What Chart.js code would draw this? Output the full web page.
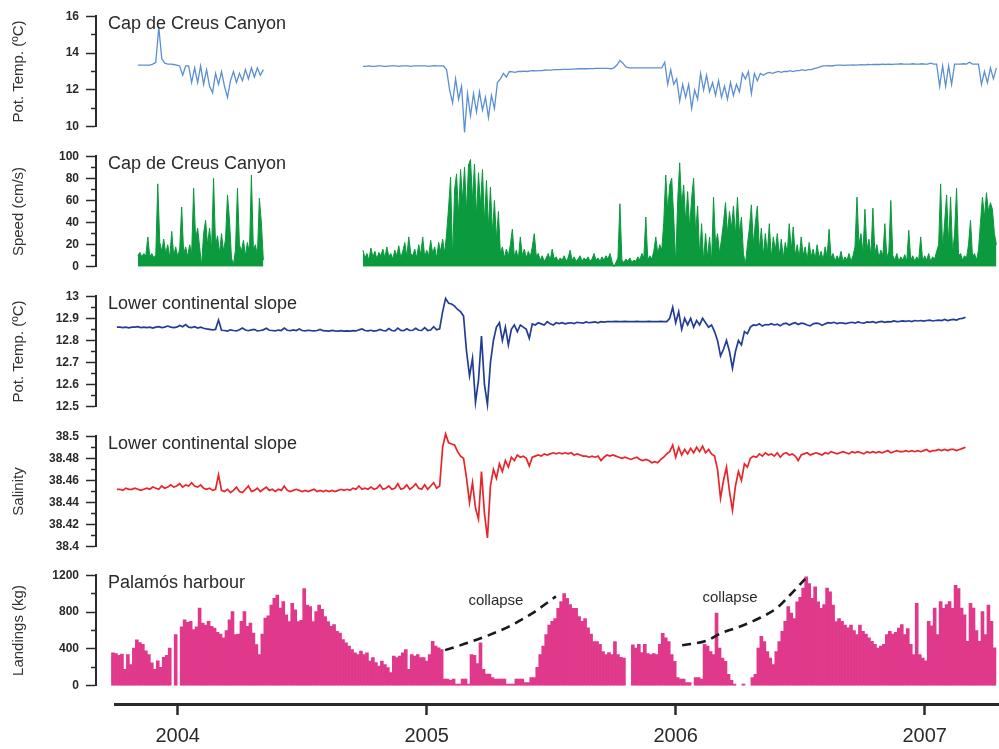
<!DOCTYPE html>
<html lang="en">
<head>
<meta charset="UTF-8">
<title>Cap de Creus / Palamós time series</title>
<script src="https://cdn.jsdelivr.net/npm/chart.js"></script>
<style>
  html, body { margin: 0; padding: 0; background: #fff; overflow: hidden; }
  #wrap { position: relative; width: 999px; height: 749px; }
  #wrap canvas { position: absolute; left: 0; }
</style>
</head>
<body>
<div id="wrap">
  <canvas id="p1" width="999" height="139" style="top:2px"></canvas>
  <canvas id="p2" width="999" height="139" style="top:142px"></canvas>
  <canvas id="p3" width="999" height="139" style="top:282px"></canvas>
  <canvas id="p4" width="999" height="139" style="top:422px"></canvas>
  <canvas id="p5" width="999" height="139" style="top:561px"></canvas>
  <canvas id="xaxis" width="999" height="59" style="top:690px"></canvas>
</div>

<script>
// time is in decimal years; every record is sampled on a regular grid
const yearTicks = [2004, 2005, 2006, 2007];
const stepSlow = 0.012;   // ~4.4 days
const stepFast = 0.008;   // ~2.9 days

// Cap de Creus Canyon - potential temperature (ºC), two deployments
const creusTempStart = [2003.840, 2004.744];
const creusTempA = [
  13.35,13.35,13.35,13.35,13.35,13.4,13.5,15.4,13.7,13.45,
  13.4,13.4,13.38,13.35,13.3,12.8,13.3,13.3,12.4,13.2,
  12.4,13.3,12.3,13.1,12.2,11.85,12.9,12.3,13.0,12.2,
  11.6,12.5,13.0,12.4,12.9,12.5,13.1,12.6,13.2,12.7,
  13.2,12.8,13.1
];
const creusTempB = [
  13.28,13.28,13.3,13.28,13.28,13.3,13.3,13.28,13.28,13.3,
  13.3,13.3,13.28,13.3,13.3,13.3,13.28,13.3,13.3,13.3,
  13.3,13.3,13.28,13.3,13.32,13.3,13.3,13.3,13.1,12.0,
  11.3,12.6,11.5,12.2,9.7,11.8,10.6,11.8,10.8,11.9,
  10.9,11.6,10.5,11.7,11.0,12.4,12.6,12.9,12.7,13.0,
  12.98,12.95,13.0,13.0,13.02,13.0,13.03,13.05,13.03,13.05,
  13.05,13.08,13.07,13.08,13.1,13.1,13.1,13.12,13.12,13.12,
  13.13,13.13,13.15,13.15,13.15,13.15,13.16,13.16,13.17,13.17,
  13.17,13.17,13.17,13.15,13.2,13.35,13.6,13.45,13.25,13.2,
  13.2,13.2,13.2,13.2,13.2,13.2,13.2,13.2,13.2,13.2,
  13.2,13.5,12.3,13.1,12.3,12.6,11.4,12.3,11.6,12.3,
  11.0,12.0,11.5,12.9,12.0,12.8,11.9,12.4,11.7,12.5,
  11.6,12.2,11.5,12.4,11.7,12.3,11.9,12.9,12.6,13.0,
  11.8,12.9,12.5,12.9,12.8,12.9,12.95,12.9,12.95,13.0,
  12.95,13.0,13.0,13.05,13.0,13.05,13.05,13.1,13.05,13.1,
  13.1,13.15,13.2,13.25,13.3,13.3,13.32,13.3,13.33,13.35,
  13.35,13.33,13.35,13.35,13.36,13.35,13.36,13.37,13.36,13.38,
  13.37,13.38,13.38,13.38,13.4,13.38,13.4,13.38,13.4,13.4,
  13.42,13.4,13.4,13.4,13.42,13.4,13.4,13.42,13.4,13.4,
  13.45,13.4,13.4,12.2,13.3,12.2,13.3,12.3,13.4,13.4,
  13.4,13.42,13.4,13.5,13.4,13.4,13.4,12.3,13.0,12.4,
  13.2,12.6,13.2
];

// Cap de Creus Canyon - current speed (cm/s)
const speedStart = [2003.840, 2004.744];
const speedA = [
  10,13,9,12,10,27,9,12,8,11,
  75,22,14,25,12,20,8,32,10,18,
  9,16,54,12,18,9,20,12,71,25,
  35,18,1,30,42,20,35,15,80,20,
  28,12,30,14,25,65,42,8,2,15,
  71,20,14,24,10,22,12,83,15,20,
  10,62,40,6
];
const speedB = [
  15,8,12,6,17,9,14,7,13,10,
  16,8,18,9,12,7,15,10,19,8,
  14,22,9,27,12,10,16,8,20,11,
  27,9,15,10,24,12,18,8,22,14,
  25,12,30,54,81,6,70,84,45,88,
  60,90,50,92,97,60,93,45,85,55,
  88,40,78,35,72,30,60,25,50,12,
  18,8,16,10,20,34,9,15,7,27,
  10,16,8,14,9,18,30,10,12,6,
  10,5,8,12,6,16,7,9,5,8,
  6,10,5,8,15,6,9,5,7,10,
  5,8,6,9,5,7,12,6,8,5,
  9,6,10,7,12,5,0,4,8,57,
  6,4,7,5,8,4,6,5,9,6,
  12,8,45,6,10,7,14,27,12,20,
  15,40,83,50,74,80,45,2,60,94,
  55,74,40,68,35,62,80,30,55,10,
  39,5,30,8,27,4,63,20,30,12,
  25,40,58,30,50,35,55,28,63,30,
  45,12,2,20,35,56,20,40,55,15,
  35,10,30,12,39,8,27,15,30,10,
  25,8,22,12,39,15,36,10,20,8,
  27,10,18,6,22,9,16,7,20,8,
  14,6,18,9,34,8,12,5,10,6,
  14,5,9,6,12,5,10,18,63,20,
  30,12,52,15,25,10,53,12,20,8,
  15,10,39,8,14,60,10,6,12,5,
  9,6,11,5,33,6,10,5,9,6,
  27,5,10,6,12,5,9,7,14,20,
  75,15,40,65,20,63,12,30,71,10,
  12,6,10,8,20,42,9,12,6,15,
  40,63,45,67,50,58,52,30,20
];

// Lower continental slope - potential temperature (ºC)
const slopeStart = 2003.756;
const slopeTemp = [
  12.86,12.86,12.858,12.86,12.857,12.86,12.86,12.862,12.858,12.86,
  12.858,12.86,12.856,12.86,12.862,12.858,12.86,12.865,12.86,12.858,
  12.86,12.868,12.862,12.872,12.86,12.858,12.862,12.856,12.86,12.855,
  12.852,12.85,12.848,12.85,12.892,12.846,12.845,12.842,12.848,12.845,
  12.843,12.848,12.856,12.847,12.844,12.848,12.85,12.843,12.845,12.848,
  12.855,12.846,12.845,12.843,12.847,12.845,12.856,12.846,12.844,12.848,
  12.845,12.852,12.845,12.843,12.846,12.844,12.843,12.845,12.85,12.844,
  12.843,12.842,12.845,12.843,12.842,12.844,12.842,12.843,12.842,12.844,
  12.843,12.848,12.852,12.845,12.843,12.846,12.842,12.844,12.85,12.845,
  12.843,12.854,12.845,12.843,12.856,12.845,12.844,12.853,12.845,12.846,
  12.855,12.846,12.845,12.858,12.845,12.847,12.862,12.848,12.852,12.93,
  12.99,12.968,12.965,12.955,12.94,12.93,12.91,12.75,12.64,12.72,
  12.52,12.62,12.82,12.6,12.51,12.7,12.8,12.86,12.88,12.8,
  12.86,12.78,12.85,12.87,12.84,12.87,12.86,12.85,12.81,12.875,
  12.87,12.88,12.875,12.87,12.885,12.875,12.87,12.88,12.876,12.88,
  12.875,12.878,12.88,12.876,12.882,12.88,12.878,12.884,12.88,12.882,
  12.884,12.88,12.885,12.883,12.885,12.885,12.885,12.886,12.885,12.885,
  12.886,12.885,12.885,12.885,12.886,12.885,12.885,12.885,12.886,12.885,
  12.885,12.885,12.886,12.885,12.885,12.9,12.95,12.88,12.93,12.85,
  12.9,12.87,12.9,12.86,12.89,12.87,12.9,12.88,12.86,12.87,
  12.84,12.8,12.73,12.76,12.8,12.75,12.675,12.75,12.8,12.78,
  12.84,12.83,12.86,12.87,12.868,12.875,12.865,12.872,12.87,12.876,
  12.87,12.874,12.866,12.875,12.878,12.87,12.876,12.88,12.872,12.878,
  12.876,12.87,12.866,12.875,12.878,12.876,12.868,12.875,12.88,12.878,
  12.882,12.876,12.88,12.878,12.876,12.88,12.882,12.878,12.884,12.88,
  12.878,12.884,12.882,12.885,12.88,12.884,12.886,12.882,12.885,12.884,
  12.888,12.885,12.886,12.888,12.886,12.889,12.885,12.89,12.888,12.89,
  12.887,12.89,12.892,12.888,12.89,12.892,12.89,12.895,12.89,12.893,
  12.895,12.892,12.898,12.9,12.905
];

// Lower continental slope - salinity
const slopeSal = [
  38.452,38.452,38.451,38.453,38.452,38.452,38.453,38.452,38.451,38.452,
  38.453,38.452,38.454,38.453,38.452,38.455,38.453,38.454,38.456,38.454,
  38.455,38.457,38.454,38.456,38.455,38.458,38.455,38.454,38.456,38.453,
  38.452,38.453,38.451,38.452,38.465,38.451,38.45,38.452,38.449,38.451,
  38.454,38.45,38.449,38.452,38.455,38.45,38.451,38.453,38.45,38.452,
  38.454,38.451,38.452,38.45,38.452,38.451,38.455,38.451,38.45,38.451,
  38.452,38.451,38.45,38.451,38.45,38.451,38.452,38.45,38.451,38.45,
  38.451,38.45,38.451,38.45,38.451,38.452,38.451,38.452,38.451,38.453,
  38.452,38.455,38.452,38.453,38.452,38.454,38.452,38.453,38.456,38.452,
  38.453,38.455,38.452,38.453,38.457,38.452,38.453,38.456,38.452,38.454,
  38.457,38.453,38.452,38.456,38.452,38.455,38.458,38.453,38.455,38.49,
  38.502,38.494,38.493,38.492,38.486,38.482,38.48,38.462,38.44,38.458,
  38.435,38.425,38.468,38.43,38.408,38.455,38.47,38.462,38.475,38.468,
  38.478,38.472,38.481,38.478,38.483,38.481,38.482,38.48,38.473,38.481,
  38.482,38.483,38.482,38.484,38.483,38.484,38.485,38.484,38.485,38.484,
  38.485,38.484,38.485,38.483,38.484,38.483,38.482,38.482,38.481,38.482,
  38.481,38.482,38.478,38.481,38.483,38.482,38.483,38.482,38.481,38.48,
  38.481,38.48,38.479,38.48,38.481,38.479,38.478,38.479,38.478,38.476,
  38.477,38.476,38.479,38.481,38.484,38.486,38.492,38.481,38.49,38.483,
  38.488,38.484,38.489,38.485,38.49,38.486,38.491,38.485,38.488,38.484,
  38.482,38.47,38.444,38.46,38.472,38.45,38.433,38.455,38.468,38.46,
  38.475,38.472,38.48,38.482,38.481,38.484,38.482,38.485,38.483,38.484,
  38.482,38.485,38.481,38.484,38.485,38.483,38.484,38.482,38.478,38.483,
  38.484,38.485,38.483,38.484,38.485,38.484,38.483,38.485,38.484,38.486,
  38.485,38.484,38.485,38.486,38.485,38.484,38.486,38.485,38.486,38.485,
  38.484,38.486,38.485,38.486,38.485,38.486,38.485,38.486,38.487,38.485,
  38.486,38.487,38.486,38.486,38.487,38.486,38.487,38.486,38.487,38.486,
  38.487,38.488,38.486,38.487,38.487,38.488,38.487,38.488,38.487,38.488,
  38.488,38.487,38.488,38.489,38.49
];

// Palamós harbour - landings (kg), null = no landings recorded
const landStart = 2003.740;
const landings = [
  358,350,330,345,180,340,230,410,500,470,
  450,380,340,250,180,270,200,310,330,410,
  null,555,null,640,715,690,700,610,640,842,
  680,660,700,645,625,580,560,520,600,716,
  806,555,560,700,806,645,680,573,448,340,
  560,734,760,877,949,985,842,913,770,698,
  895,824,698,710,1056,877,860,698,806,877,
  830,752,698,645,663,591,573,502,466,430,
  394,358,340,376,340,358,269,305,251,215,
  269,230,197,144,323,305,323,358,394,180,
  340,323,340,305,305,269,340,483,430,412,
  394,72,72,60,72,18,18,72,72,18,
  340,330,240,466,180,126,126,90,72,72,
  72,72,18,18,18,72,72,72,36,36,
  90,90,200,340,430,555,660,700,730,840,
  915,1000,950,880,840,840,750,700,730,630,
  560,480,480,450,370,340,360,340,480,340,
  310,300,null,null,445,410,450,360,450,350,
  340,350,340,450,570,520,480,340,265,90,
  72,72,36,36,null,90,90,72,450,430,
  370,340,788,410,300,265,125,60,18,null,
  null,18,null,null,90,125,410,537,480,370,
  300,230,370,480,590,700,860,790,730,910,
  960,1060,1181,1110,950,1075,910,840,880,1060,
  1020,877,698,730,700,660,630,660,600,555,
  660,591,560,520,483,450,410,430,450,555,
  590,560,580,627,663,555,620,450,340,895,
  340,300,270,700,650,842,555,915,840,880,
  913,840,1090,1056,842,770,483,895,842,600,
  483,806,555,877,700,412
];

// "collapse" guide curves and their labels
const collapse1T = [2005.074, 2005.165, 2005.255, 2005.335, 2005.427, 2005.519];
const collapse1V = [387, 466, 555, 650, 792, 970];
const collapse2T = [2006.026, 2006.126, 2006.178, 2006.259, 2006.339, 2006.407, 2006.459, 2006.520];
const collapse2V = [440, 491, 566, 644, 738, 845, 985, 1160];
const noteT = [2005.278, 2006.218];
const noteV = [920, 953];

// y axis ticks (all) and the labelled ones
const tempTicks = [10, 11, 12, 13, 14, 15, 16],            tempLabels = [10, 12, 14, 16];
const speedTicks = [0, 10, 20, 30, 40, 50, 60, 70, 80, 90, 100], speedLabels = [0, 20, 40, 60, 80, 100];
const slopeTicks = [12.5, 12.55, 12.6, 12.65, 12.7, 12.75, 12.8, 12.85, 12.9, 12.95, 13];
const slopeLabels = [12.5, 12.6, 12.7, 12.8, 12.9, 13];
const salTicks = [38.4, 38.41, 38.42, 38.43, 38.44, 38.45, 38.46, 38.47, 38.48, 38.49, 38.5];
const salLabels = [38.4, 38.42, 38.44, 38.46, 38.48, 38.5];
const landTicks = [0, 200, 400, 600, 800, 1000, 1200],      landLabels = [0, 400, 800, 1200];

const FONT = "'Liberation Sans', Arial, Helvetica, sans-serif";
Chart.defaults.font.family = FONT;
const INK = '#2a2a2a';

// x range of the panels (axis line at the left) and of the bottom axis
const panelXMin = 2003.6719, axisXMin = 2003.7482, xMax = 2007.2984;

function series(start, step, values) {
  return values.map((v, i) => ({ x: start + i * step, y: v }));
}
function pairs(ts, vs) {
  return ts.map((t, i) => ({ x: t, y: vs[i] }));
}

function caption(text, notes) {
  return {
    id: 'caption',
    afterDatasetsDraw(chart) {
      const { ctx, chartArea, scales } = chart;
      ctx.save();
      ctx.fillStyle = INK;
      ctx.textBaseline = 'middle';
      ctx.textAlign = 'left';
      ctx.font = '18px ' + FONT;
      ctx.fillText(text, chartArea.left + 12, chartArea.top + 8);
      if (notes) {
        ctx.font = '15px ' + FONT;
        ctx.textAlign = 'center';
        notes.t.forEach((t, i) => {
          ctx.fillText('collapse', scales.x.getPixelForValue(t), scales.y.getPixelForValue(notes.v[i]));
        });
      }
      ctx.restore();
    }
  };
}

function yScale(min, max, ticks, labels, title) {
  return {
    min: min, max: max, position: 'left',
    afterBuildTicks: s => { s.ticks = ticks.map(v => ({ value: v })); },
    afterFit: s => { s.width = 96; },
    border: { color: INK, width: 2 },
    grid: {
      drawOnChartArea: false, tickLength: 10, tickWidth: 1.5, tickColor: INK,
      // minor ticks: only the half next to the axis
      tickBorderDash: c => (c.tick && labels.includes(c.tick.value)) ? [] : [0, 5, 6, 60]
    },
    ticks: {
      color: INK, padding: 7, autoSkip: false,
      font: { size: 12, weight: 'bold' },
      callback: v => labels.includes(v) ? String(v) : ''
    },
    title: { display: true, text: title, color: '#333', font: { size: 15 }, padding: { top: 10, bottom: 0 } }
  };
}

function panel(id, type, datasets, y, text, notes) {
  return new Chart(document.getElementById(id), {
    type: type,
    data: { datasets: datasets },
    options: {
      responsive: false, animation: false, events: [],
      layout: { padding: { top: 14, bottom: 14, left: 0, right: 0 } },
      plugins: { legend: { display: false }, tooltip: { enabled: false } },
      elements: { point: { radius: 0 }, line: { tension: 0 } },
      scales: {
        x: { type: 'linear', display: false, min: panelXMin, max: xMax, offset: false },
        y: y
      }
    },
    plugins: [caption(text, notes)]
  });
}

const blueLight = '#5b8fd3', green = '#0b9a3e', blueDark = '#233d97', red = '#e8252b', pink = '#e0398b';

panel('p1', 'line', [
  { data: series(creusTempStart[0], stepSlow, creusTempA), borderColor: blueLight, borderWidth: 1.3, clip: false },
  { data: series(creusTempStart[1], stepSlow, creusTempB), borderColor: blueLight, borderWidth: 1.3, clip: false }
], yScale(10, 16, tempTicks, tempLabels, 'Pot. Temp. (ºC)'), 'Cap de Creus Canyon');

panel('p2', 'line', [
  { data: series(speedStart[0], stepFast, speedA), borderColor: green, backgroundColor: green, borderWidth: 1, fill: 'origin' },
  { data: series(speedStart[1], stepFast, speedB), borderColor: green, backgroundColor: green, borderWidth: 1, fill: 'origin' }
], yScale(0, 100, speedTicks, speedLabels, 'Speed (cm/s)'), 'Cap de Creus Canyon');

panel('p3', 'line', [
  { data: series(slopeStart, stepSlow, slopeTemp), borderColor: blueDark, borderWidth: 1.7, clip: false }
], yScale(12.5, 13, slopeTicks, slopeLabels, 'Pot. Temp. (ºC)'), 'Lower continental slope');

panel('p4', 'line', [
  { data: series(slopeStart, stepSlow, slopeSal), borderColor: red, borderWidth: 1.7, clip: false }
], yScale(38.4, 38.5, salTicks, salLabels, 'Salinity'), 'Lower continental slope');

panel('p5', 'bar', [
  { type: 'bar', data: series(landStart, stepSlow, landings), backgroundColor: pink, borderWidth: 0,
    barPercentage: 1, categoryPercentage: 1, order: 2 },
  { type: 'line', data: pairs(collapse1T, collapse1V), borderColor: '#1a1a1a', borderWidth: 2.6,
    borderDash: [9, 6], cubicInterpolationMode: 'monotone', pointRadius: 0, order: 1 },
  { type: 'line', data: pairs(collapse2T, collapse2V), borderColor: '#1a1a1a', borderWidth: 2.6,
    borderDash: [9, 6], cubicInterpolationMode: 'monotone', pointRadius: 0, order: 1 }
], yScale(0, 1200, landTicks, landLabels, 'Landings (kg)'), 'Palamós harbour', { t: noteT, v: noteV });

// shared time axis
new Chart(document.getElementById('xaxis'), {
  type: 'line',
  data: { datasets: [] },
  options: {
    responsive: false, animation: false, events: [],
    layout: { padding: { left: 115, right: 0, top: 0, bottom: 0 } },
    plugins: { legend: { display: false }, tooltip: { enabled: false } },
    scales: {
      x: {
        type: 'linear', position: 'bottom', min: axisXMin, max: xMax,
        afterBuildTicks: s => { s.ticks = yearTicks.map(v => ({ value: v })); },
        afterFit: s => { s.height = 45; },
        border: { color: INK, width: 3 },
        grid: { drawOnChartArea: false, tickLength: 11, tickWidth: 2.5, tickColor: INK },
        ticks: { color: INK, font: { size: 20 }, padding: 9, maxRotation: 0, autoSkip: false, callback: v => String(v) }
      },
      y: { display: false, min: 0, max: 1 }
    }
  }
});
</script>
</body>
</html>
